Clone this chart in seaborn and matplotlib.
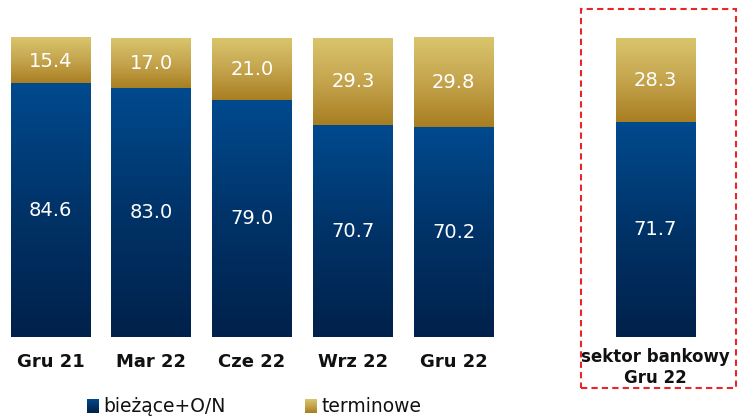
import numpy as np
import pandas as pd
import matplotlib
matplotlib.use("Agg")
import matplotlib.pyplot as plt
from matplotlib.colors import LinearSegmentedColormap
from matplotlib.patches import Rectangle
import seaborn as sns

# Deposit structure (%): current + O/N vs term deposits
categories = ["Gru 21", "Mar 22", "Cze 22", "Wrz 22", "Gru 22", "sektor bankowy\nGru 22"]
biezace = [84.6, 83.0, 79.0, 70.7, 70.2, 71.7]
terminowe = [15.4, 17.0, 21.0, 29.3, 29.8, 28.3]
positions = [0, 1, 2, 3, 4, 6]

sns.set_theme(style="white")
plt.rcParams["font.family"] = ["DejaVu Sans"]

blue_cmap = LinearSegmentedColormap.from_list("blue", ["#00214A", "#003368", "#004A8E"])
gold_cmap = LinearSegmentedColormap.from_list("gold", ["#A87D20", "#C4A44D", "#D9C56D"])

df = pd.DataFrame({
    "pos": positions,
    "total": np.array(biezace) + np.array(terminowe),
    "biezace": biezace,
})

fig = plt.figure(figsize=(7.38, 4.16), dpi=100)
ax = fig.add_axes([0, 0, 1, 1])

sns.barplot(data=df, x="pos", y="total", native_scale=True, width=0.79, ax=ax,
            color="#C4A44D", saturation=1, linewidth=0)
n_gold = len(ax.patches)
sns.barplot(data=df, x="pos", y="biezace", native_scale=True, width=0.79, ax=ax,
            color="#003368", saturation=1, linewidth=0)

grad = np.linspace(0, 1, 256).reshape(-1, 1)
patches = list(ax.patches)
for i, p in enumerate(patches):
    x0, y0 = p.get_x(), p.get_y()
    w, h = p.get_width(), p.get_height()
    if i < n_gold:
        # gold segment spans from the blue top to 100
        y0 = biezace[i]
        h = terminowe[i]
        cmap = gold_cmap
    else:
        cmap = blue_cmap
    ax.imshow(grad, cmap=cmap, origin="lower", aspect="auto",
              extent=(x0, x0 + w, y0, y0 + h), zorder=3, interpolation="bilinear")
    p.set_visible(False)

for k, x in enumerate(positions):
    ax.text(x, biezace[k] / 2, f"{biezace[k]:.1f}", ha="center", va="center",
            color="white", fontsize=14, zorder=5)
    ax.text(x, biezace[k] + terminowe[k] / 2, f"{terminowe[k]:.1f}", ha="center",
            va="center", color="white", fontsize=14, zorder=5)

ax.set_xlim(-0.501, 6.82)
ax.set_ylim(-26.4, 112.7)
ax.set_xticks([])
ax.set_yticks([])
ax.set_xlabel("")
ax.set_ylabel("")
for s in ax.spines.values():
    s.set_visible(False)

# category labels under the bars
for k, x in enumerate(positions):
    if "\n" in categories[k]:
        ax.text(x, -3.6, categories[k], ha="center", va="top", fontsize=12,
                fontweight="bold", color="#111111", linespacing=1.2)
    else:
        ax.text(x, -5.5, categories[k], ha="center", va="top", fontsize=13,
                fontweight="bold", color="#111111")

# dashed frame around the banking-sector bar
W, H = 738, 416
frame = Rectangle((581 / W, 1 - 388 / H), (736 - 581) / W, (388 - 9) / H,
                  transform=fig.transFigure, fill=False, edgecolor="#E8262A",
                  linewidth=1.5, linestyle=(0, (3, 2)))
fig.patches.append(frame)

# legend with gradient swatches
legend_items = [("bieżące+O/N", blue_cmap, 87), ("terminowe", gold_cmap, 305)]
for label, cmap, px in legend_items:
    sax = fig.add_axes([px / W, 1 - 413 / H, 12 / W, 14 / H])
    sax.imshow(grad, cmap=cmap, origin="lower", aspect="auto")
    sax.axis("off")
    fig.text((px + 16) / W, 1 - 406 / H, label, ha="left", va="center",
             fontsize=13.5, color="#111111")

fig.savefig("out.png", dpi=100)
